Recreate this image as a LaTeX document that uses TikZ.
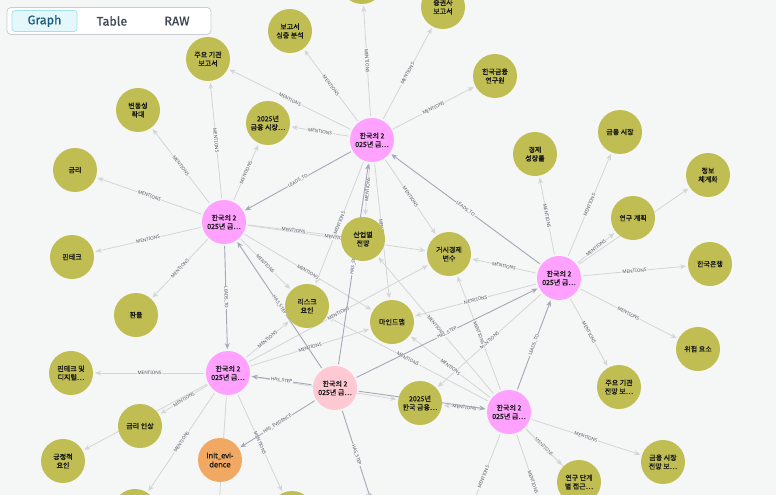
\documentclass[tikz,border=0pt]{standalone}
\usepackage{fontspec}
\usetikzlibrary{arrows.meta}
\newfontfamily\krf{Noto Sans CJK KR}[FakeBold=1.2]
\newfontfamily\lblf{Noto Sans}
\newfontfamily\evif{Noto Sans}[FakeBold=1]
\newfontfamily\uif{Fira Sans}[FakeBold=0.8]
\definecolor{bgc}{HTML}{F5F6F6}
\definecolor{olivec}{HTML}{C0BE52}
\definecolor{hubc}{HTML}{FFA2FF}
\definecolor{stepc}{HTML}{FFC9D3}
\definecolor{evic}{HTML}{F0A863}
\definecolor{menc}{HTML}{D4D5D7}
\definecolor{leadc}{HTML}{A3A8B6}
\definecolor{lblc}{HTML}{4E525C}
\definecolor{nodetxt}{HTML}{1A1A1A}
\definecolor{togborder}{HTML}{C9CDD2}
\definecolor{selfill}{HTML}{E4F8FB}
\definecolor{selborder}{HTML}{A2E2EC}
\definecolor{seltxt}{HTML}{1D5B7C}
\definecolor{uitxt}{HTML}{3E4752}
\pgfdeclarelayer{bglayer}
\pgfdeclarelayer{edgelayer}
\pgfsetlayers{bglayer,edgelayer,main}
\tikzset{
  ent/.style={circle, fill=olivec, minimum size=44pt, inner sep=0pt, outer sep=2pt,
    align=center, text=nodetxt, font=\krf\fontsize{7}{8.6}\selectfont},
  hubn/.style={ent, fill=hubc},
  stepn/.style={ent, fill=stepc},
  evin/.style={ent, fill=evic, font=\evif\fontsize{7.5}{9}\selectfont},
  men/.style={draw=menc, line width=0.8pt, -{Stealth[length=6pt,width=5pt]}},
  lead/.style={draw=leadc, line width=0.9pt, -{Stealth[length=6pt,width=5pt]}},
  lbl/.style={midway, sloped, font=\lblf\fontsize{4.6}{5}\selectfont, text=lblc,
    fill=bgc, inner sep=0.7pt},
  togtxt/.style={font=\uif\fontsize{12.5}{14}\selectfont, text=uitxt}
}
\begin{document}
\begin{tikzpicture}[x=1pt,y=-1pt]
\begin{pgfonlayer}{bglayer}
\fill[bgc] (0,0) rectangle (776,495);
\end{pgfonlayer}
\useasboundingbox (0,0) rectangle (776,495);

% hubs
\node[hubn] (H1) at (372,140) {한국의 2\\025년 금…};
\node[hubn] (H2) at (224,222) {한국의 2\\025년 금…};
\node[hubn] (H3) at (559,278) {한국의 2\\025년 금…};
\node[hubn] (H4) at (509,412) {한국의 2\\025년 금…};
\node[hubn] (H5) at (228,373) {한국의 2\\025년 금…};
\node[stepn] (H6) at (335,388) {한국의 2\\025년 금…};
\node[evin] (IE) at (220,460) {init\_evi-\\dence};

% entities
\node[ent] (T0) at (362,-18) {};
\node[ent] (A) at (443,7) {증권사\\보고서};
\node[ent] (B) at (290,31) {보고서\\심층 분석};
\node[ent] (C) at (495,76) {한국금융\\연구원};
\node[ent] (D) at (268,123) {2025년\\금융 시장…};
\node[ent] (E) at (208,59) {주요 기관\\보고서};
\node[ent] (F) at (138,110) {변동성\\확대};
\node[ent] (G) at (75,170) {금리};
\node[ent] (I) at (72,257) {핀테크};
\node[ent] (J) at (136,315) {환율};
\node[ent] (K) at (363,239) {산업별\\전망};
\node[ent] (L) at (449,254) {거시경제\\변수};
\node[ent] (M) at (307,306) {리스크\\요인};
\node[ent] (N) at (392,322) {마인드맵};
\node[ent] (O) at (535,154) {경제\\성장률};
\node[ent] (P) at (620,132) {금융 시장};
\node[ent] (Q) at (708,175) {정보\\체계화};
\node[ent] (R) at (633,218) {연구 계획};
\node[ent] (S) at (710,264) {한국은행};
\node[ent] (U) at (698,349) {위험 요소};
\node[ent] (V) at (619,387) {주요 기관\\전망 보…};
\node[ent] (W) at (663,462) {금융 시장\\전망 보…};
\node[ent] (X) at (579,482) {연구 단계\\별 접근…};
\node[ent] (Y) at (71,373) {핀테크 및\\디지털…};
\node[ent] (Z) at (140,426) {금리 인상};
\node[ent] (AA) at (63,461) {긍정적\\요인};
\node[ent] (AB) at (420,403) {2025년\\한국 금융…};
\node[ent] (BL1) at (135,511) {};
\node[ent] (BL2) at (292,513) {};
\node[ent] (BL3) at (458,542) {};
\node[ent] (BL4) at (557,552) {};
\node[ent] (BL5) at (378,522) {};
\node[ent] (BL6) at (216,550) {};
\node[ent] (BL7) at (624,527) {};

\begin{pgfonlayer}{edgelayer}
% H1
\draw[men] (H1) -- node[lbl]{MENTIONS} (T0);
\draw[men] (H1) -- node[lbl]{MENTIONS} (A);
\draw[men] (H1) -- node[lbl]{MENTIONS} (B);
\draw[men] (H1) -- node[lbl]{MENTIONS} (C);
\draw[men] (H1) -- node[lbl]{MENTIONS} (D);
\draw[men] (H1) -- node[lbl]{MENTIONS} (E);
\draw[men] (H1) -- node[lbl]{MENTIONS} (K);
\draw[men] (H1) -- node[lbl]{MENTIONS} (N);
\draw[men] (H1) -- node[lbl]{MENTIONS} (L);
\draw[men] (H1) -- node[lbl]{MENTIONS} (M);
\draw[lead] (H1) -- node[lbl]{LEADS\_TO} (H2);
% H2
\draw[men] (H2) -- node[lbl]{MENTIONS} (F);
\draw[men] (H2) -- node[lbl]{MENTIONS} (E);
\draw[men] (H2) -- node[lbl]{MENTIONS} (D);
\draw[men] (H2) -- node[lbl]{MENTIONS} (G);
\draw[men] (H2) -- node[lbl]{MENTIONS} (I);
\draw[men] (H2) -- node[lbl]{MENTIONS} (J);
\draw[men] (H2) -- node[lbl]{MENTIONS} (K);
\draw[men] (H2) -- node[lbl]{MENTIONS} (L);
\draw[men] (H2) -- node[lbl]{MENTIONS} (M);
\draw[men] (H2) -- node[lbl]{MENTIONS} (N);
\draw[lead] (H2) -- node[lbl]{LEADS\_TO} (H5);
% H3
\draw[men] (H3) -- node[lbl]{MENTIONS} (O);
\draw[men] (H3) -- node[lbl]{MENTIONS} (P);
\draw[men] (H3) -- (Q);
\draw[men] (H3) -- node[lbl]{MENTIONS} (R);
\draw[men] (H3) -- node[lbl]{MENTIONS} (S);
\draw[men] (H3) -- node[lbl]{MENTIONS} (U);
\draw[men] (H3) -- node[lbl]{MENTIONS} (V);
\draw[men] (H3) -- node[lbl]{MENTIONS} (L);
\draw[men] (H3) -- node[lbl]{MENTIONS} (N);
\draw[men] (H3) -- node[lbl]{MENTIONS} (AB);
\draw[lead] (H3) -- node[lbl]{LEADS\_TO} (H1);
% H4
\draw[lead] (H4) -- node[lbl]{LEADS\_TO} (H3);
\draw[men] (H4) -- node[lbl]{MENTIONS} (AB);
\draw[men] (H4) -- node[lbl]{MENTIONS} (M);
\draw[men] (H4) -- node[lbl]{MENTIONS} (N);
\draw[men] (H4) -- node[lbl]{MENTIONS} (K);
\draw[men] (H4) -- node[lbl]{MENTIONS} (L);
\draw[men] (H4) -- node[lbl]{MENTIONS} (W);
\draw[men] (H4) -- node[lbl]{MENTIONS} (X);
\draw[men] (H4) -- node[lbl]{MENTIONS} (BL3);
\draw[men] (H4) -- node[lbl]{MENTIONS} (BL4);
\draw[men] (H4) -- (BL7);
% H5
\draw[men] (H5) -- node[lbl]{MENTIONS} (Y);
\draw[men] (H5) -- node[lbl]{MENTIONS} (Z);
\draw[men] (H5) -- (AA);
\draw[men] (H5) -- node[lbl]{MENTIONS} (M);
\draw[men] (H5) -- node[lbl]{MENTIONS} (N);
\draw[men] (H5) -- node[lbl]{MENTIONS} (L);
\draw[men] (H5) -- (AB);
\draw[men] (H5) -- node[lbl]{MENTIONS} (BL1);
\draw[men] (H5) -- node[lbl]{MENTIONS} (BL2);
\draw[men] (H5) -- (BL6);
% H6
\draw[lead] (H6) -- node[lbl]{HAS\_STEP} (H1);
\draw[lead] (H6) -- node[lbl]{HAS\_STEP} (H2);
\draw[lead] (H6) -- node[lbl]{HAS\_STEP} (H5);
\draw[lead] (H6) -- node[lbl]{HAS\_STEP} (H3);
\draw[lead] (H6) -- (H4);
\draw[lead] (H6) -- node[lbl]{HAS\_STEP} (BL5);
\draw[lead] (H6) -- node[lbl]{HAS\_EVIDENCE} (IE);
\end{pgfonlayer}

% view toggle
\node[draw=togborder, fill=white, rounded corners=4pt, line width=0.8pt,
  minimum width=204pt, minimum height=27pt, inner sep=0pt] (tog) at (109,21) {};
\node[draw=selborder, fill=selfill, rounded corners=3pt, line width=0.7pt,
  minimum width=65pt, minimum height=21pt, inner sep=0pt] (selbox) at (44.5,21) {};
\node[togtxt, text=seltxt] (tg) at (selbox) {Graph};
\node[togtxt] (tt) at (112,21) {Table};
\node[togtxt] (tr) at (177,21) {RAW};
\end{tikzpicture}
\end{document}
